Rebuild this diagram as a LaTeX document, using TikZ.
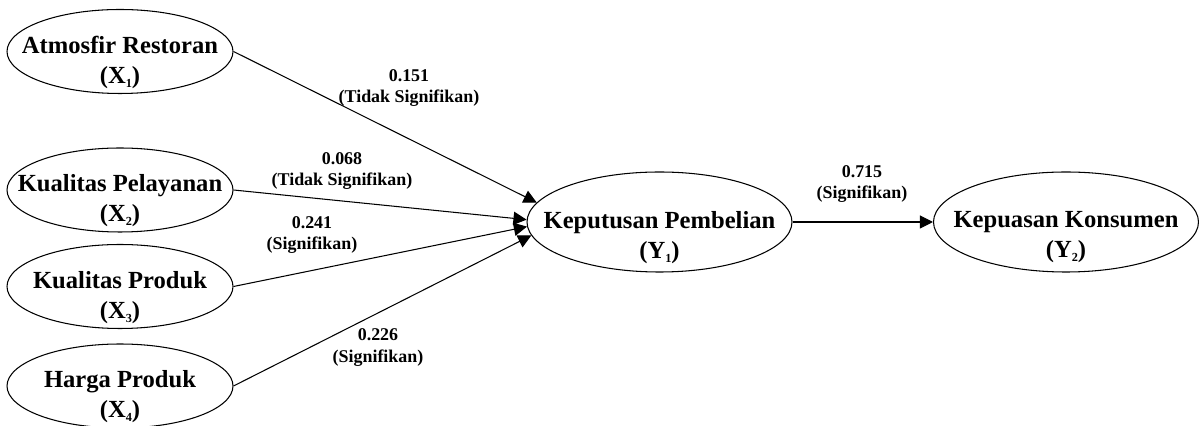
\documentclass[tikz,border=0pt]{standalone}
\usepackage{fontspec}
\setmainfont{Liberation Serif}
\usetikzlibrary{shapes.geometric,arrows.meta}

\newcommand{\idx}[1]{\raisebox{-0.35ex}{\fontsize{7}{7}\selectfont #1}}

\tikzset{
    xvar/.style={ellipse, draw=black, line width=0.6pt, minimum width=4.52cm, minimum height=1.68cm},
    yvar/.style={ellipse, draw=black, line width=0.6pt, minimum width=5.3cm, minimum height=2cm},
    vtext/.style={align=center, font=\fontsize{14}{17}\selectfont\bfseries},
    coef/.style={align=center, font=\fontsize{10.2}{12.2}\selectfont\bfseries},
    link/.style={line width=0.6pt, -{Triangle[length=7.5pt,width=7.5pt]}}
}

\begin{document}
\begin{tikzpicture}
    \useasboundingbox (0,0) rectangle (23.98,8.52);

    \node[xvar, label={[vtext, yshift=-0.22cm]center:Atmosfir Restoran\\(X\idx{1})}] (X1) at (2.40, 7.49) {};
    \node[xvar, label={[vtext, yshift=-0.22cm]center:Kualitas Pelayanan\\(X\idx{2})}] (X2) at (2.40, 4.72) {};
    \node[xvar, label={[vtext, yshift=-0.22cm]center:Kualitas Produk\\(X\idx{3})}] (X3) at (2.40, 2.79) {};
    \node[xvar, label={[vtext, yshift=-0.22cm]center:Harga Produk\\(X\idx{4})}] (X4) at (2.40, 0.80) {};

    \node[yvar, label={[vtext, yshift=-0.31cm]center:Keputusan Pembelian\\(Y\idx{1})}] (Y1) at (13.19, 4.08) {};
    \node[yvar, label={[vtext, yshift=-0.31cm]center:Kepuasan Konsumen\\(Y\idx{2})}] (Y2) at (21.32, 4.08) {};

    \draw[link] (X1.east) -- (Y1.171);
    \draw[link] (X2.east) -- (Y1.179);
    \draw[link] (X3.east) -- (Y1.182);
    \draw[link] (X4.east) -- (Y1.186);
    \draw[link] (Y1.east) -- (Y2.west);

    \node[coef] (c1) at (8.18, 6.76) {0.151\\(Tidak Signifikan)};
    \node[coef] (c2) at (6.84, 5.10) {0.068\\(Tidak Signifikan)};
    \node[coef] (c3) at (6.24, 3.82) {0.241\\(Signifikan)};
    \node[coef] (c4) at (7.56, 1.57) {0.226\\(Signifikan)};
    \node[coef] (c5) at (17.24, 4.84) {0.715\\(Signifikan)};
\end{tikzpicture}
\end{document}
